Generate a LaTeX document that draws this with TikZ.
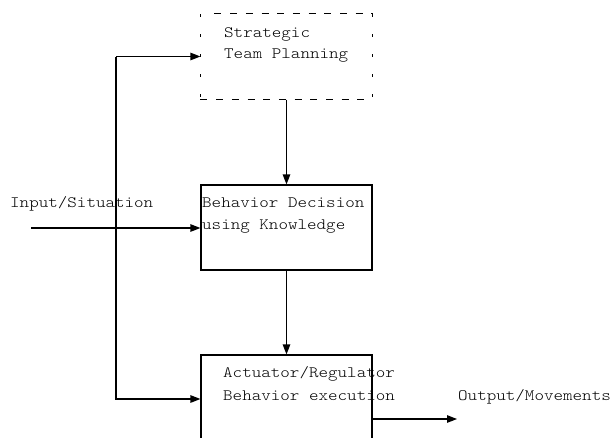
\documentclass[tikz,border=0pt]{standalone}
\usepackage{fontspec}
\setmonofont[FakeStretch=1.15]{Latin Modern Mono Light}
\usetikzlibrary{arrows.meta}
\begin{document}
\begin{tikzpicture}[x=1pt,y=-1pt,
  lbl/.style={font=\ttfamily\fontsize{15.8}{21}\selectfont, anchor=base west, inner sep=0pt, text=black},
  boxnode/.style={rectangle, minimum width=171pt, inner sep=0pt, line width=1.2pt},
  arr/.style={-{Triangle[length=10pt,width=7.5pt]}, line width=1.2pt},
  ln/.style={line width=1.2pt}]
\useasboundingbox (0,0) rectangle (610,437);
\clip (0,0) rectangle (610,437);
\fill[white] (0,0) rectangle (610,437);
% boxes
\node[boxnode, minimum height=85pt] (s) at (286.5,56.5) {};
\node[boxnode, draw, minimum height=85pt] (m) at (286.5,227.5) {};
\node[boxnode, draw, minimum height=88pt] (b) at (286.5,399) {};
% dashed outline of strategic box
\draw[ln, dash pattern=on 7pt off 8.7pt] ([xshift=14pt]s.north west) -- (s.north east);
\draw[ln, dash pattern=on 7pt off 8.7pt] (s.south west) -- ([xshift=-3pt]s.south east);
\draw[ln, dash pattern=on 3pt off 17pt, dash phase=-1pt] (s.north west) -- (s.south west);
\draw[ln, dash pattern=on 3pt off 17pt, dash phase=-1pt] (s.north east) -- (s.south east);
% texts
\node[lbl] (t1) at (224,37) {Strategic};
\node[lbl] (t2) at (224,58) {Team Planning};
\node[lbl] (t3) at (202,207) {Behavior Decision};
\node[lbl] (t4) at (202,229) {using Knowledge};
\node[lbl] (t5) at (223,377) {Actuator/Regulator};
\node[lbl] (t6) at (223,400) {Behavior execution};
\node[lbl] (tin) at (10,207) {Input/Situation};
\node[lbl] (tout) at (458,400) {Output/Movements};
% connectors
\coordinate (L) at (116,0);
\coordinate (in) at (31,228);
\coordinate (out) at (457,419);
\draw[arr] (s.south) -- (m.north);
\draw[arr] (m.south) -- (b.north);
\draw[arr] (in) -- (in -| m.west);
\draw[arr] (s.west -| L) -- (s.west);
\draw[arr] (s.west -| L) |- (b.west);
\draw[arr] (out -| b.east) -- (out);
\end{tikzpicture}
\end{document}
